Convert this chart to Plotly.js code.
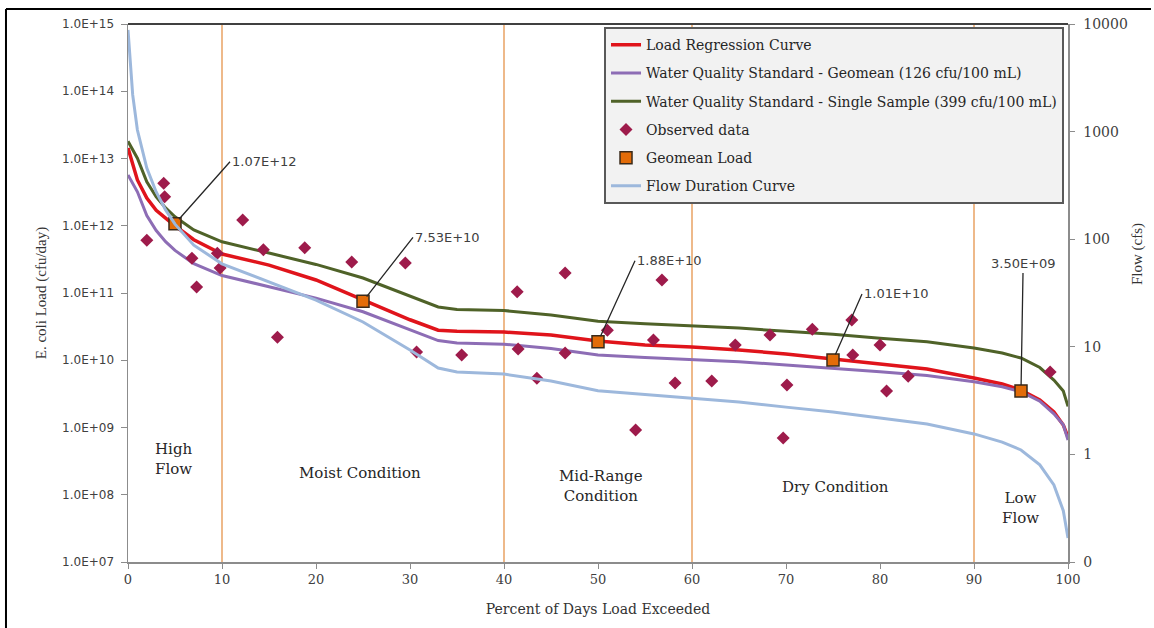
<!DOCTYPE html>
<html>
<head>
<meta charset="utf-8">
<script src="https://cdn.plot.ly/plotly-3.0.1.min.js"></script>
<style>
html,body{margin:0;padding:0;background:#ffffff;}
#chart{width:1154px;height:628px;}
</style>
</head>
<body>
<div id="chart"></div>
<script>
// ---------------- data ----------------
const pct = [0, 0.5, 1, 2, 3, 4, 5, 7, 10, 15, 20, 25, 30, 33, 35, 40, 45, 50, 55, 60, 65, 70, 75, 80, 85, 90, 93, 95, 97, 98.5, 99.5, 100];

const loadRegression = [1.43e13, 7.9e12, 4.8e12, 2.58e12, 1.70e12, 1.30e12, 1.0e12, 6.2e11, 3.8e11, 2.6e11, 1.56e11, 7.9e10, 4.0e10, 2.8e10, 2.7e10, 2.63e10, 2.37e10, 1.93e10, 1.69e10, 1.57e10, 1.42e10, 1.24e10, 1.04e10, 8.8e9, 7.4e9, 5.45e9, 4.44e9, 3.6e9, 2.57e9, 1.7e9, 1.09e9, 7.2e8];

const wqsGeomean = [5.7e12, 4.3e12, 3.2e12, 1.42e12, 8.5e11, 5.8e11, 4.3e11, 2.73e11, 1.82e11, 1.24e11, 8.4e10, 5.26e10, 2.88e10, 1.96e10, 1.8e10, 1.73e10, 1.49e10, 1.2e10, 1.1e10, 1.03e10, 9.5e9, 8.5e9, 7.66e9, 6.73e9, 5.93e9, 4.79e9, 4.03e9, 3.4e9, 2.46e9, 1.6e9, 1.1e9, 6.5e8];

const wqsSingle = [1.8e13, 1.37e13, 1.01e13, 4.5e12, 2.69e12, 1.84e12, 1.36e12, 8.65e11, 5.77e11, 3.93e11, 2.66e11, 1.67e11, 9.1e10, 6.2e10, 5.7e10, 5.48e10, 4.72e10, 3.8e10, 3.49e10, 3.27e10, 3.01e10, 2.69e10, 2.43e10, 2.13e10, 1.88e10, 1.52e10, 1.28e10, 1.08e10, 7.8e9, 5.07e9, 3.49e9, 2.06e9];

const flowCfs = [8800, 2190, 1035, 459, 275, 187, 138, 88, 59, 40, 27.2, 17.0, 9.33, 6.35, 5.83, 5.58, 4.81, 3.9, 3.6, 3.3, 3.07, 2.75, 2.48, 2.18, 1.92, 1.55, 1.30, 1.10, 0.80, 0.52, 0.30, 0.167];

const obsPct = [2.0, 3.8, 3.9, 6.8, 7.3, 9.5, 9.8, 12.2, 14.4, 15.9, 18.8, 23.8, 29.5, 30.7, 35.5, 41.4, 41.5, 43.5, 46.5, 46.5, 51.0, 54.0, 55.9, 56.8, 58.2, 62.1, 64.6, 68.3, 69.7, 70.1, 72.8, 77.0, 77.1, 80.0, 80.7, 83.0, 98.1];
const obsLoad = [6.1e11, 4.3e12, 2.7e12, 3.3e11, 1.23e11, 3.9e11, 2.35e11, 1.22e12, 4.4e11, 2.2e10, 4.7e11, 2.9e11, 2.8e11, 1.33e10, 1.2e10, 1.04e11, 1.47e10, 5.4e9, 1.98e11, 1.28e10, 2.8e10, 9.2e8, 2.0e10, 1.56e11, 4.6e9, 4.9e9, 1.69e10, 2.37e10, 7.0e8, 4.3e9, 2.9e10, 3.98e10, 1.2e10, 1.69e10, 3.5e9, 5.8e9, 6.7e9];

const geoPct = [5, 25, 50, 75, 95];
const geoLoad = [1.07e12, 7.53e10, 1.88e10, 1.01e10, 3.5e9];
const geoLabels = ['1.07E+12', '7.53E+10', '1.88E+10', '1.01E+10', '3.50E+09'];

const zoneBounds = [10, 40, 60, 90];
const zoneNames = ['High<br>Flow', 'Moist Condition', 'Mid-Range<br>Condition', 'Dry Condition', 'Low<br>Flow'];

const xTicks = [0, 10, 20, 30, 40, 50, 60, 70, 80, 90, 100];
const loadTicks = [1e7, 1e8, 1e9, 1e10, 1e11, 1e12, 1e13, 1e14, 1e15];
const loadTickText = ['1.0E+07', '1.0E+08', '1.0E+09', '1.0E+10', '1.0E+11', '1.0E+12', '1.0E+13', '1.0E+14', '1.0E+15'];
const flowTicks = [0.1, 1, 10, 100, 1000, 10000];
const flowTickText = ['0', '1', '10', '100', '1000', '10000'];

// ---------------- styling ----------------
const SERIF = 'DejaVu Serif, serif';
const SANS = 'DejaVu Sans, sans-serif';
const AXIS = '#8C8C8C';
const TXT = '#333333';

const traces = [
  {x: pct, y: loadRegression, name: 'Load Regression Curve', mode: 'lines',
   line: {color: '#E0141B', width: 3.5}, legendgroup: 'a', legendrank: 1},
  {x: pct, y: wqsGeomean, name: 'Water Quality Standard - Geomean (126 cfu/100 mL)', mode: 'lines',
   line: {color: '#8D6DB5', width: 3}, legendgroup: 'b', legendrank: 2},
  {x: pct, y: wqsSingle, name: 'Water Quality Standard - Single Sample (399 cfu/100 mL)', mode: 'lines',
   line: {color: '#4F6228', width: 3}, legendgroup: 'c', legendrank: 3},
  {x: obsPct, y: obsLoad, name: 'Observed data', mode: 'markers',
   marker: {symbol: 'diamond', size: 10, color: '#9E1B4B'}, legendgroup: 'd', legendrank: 4},
  {x: geoPct, y: geoLoad, name: 'Geomean Load', mode: 'markers',
   marker: {symbol: 'square', size: 12, color: '#E36C09', line: {color: '#3A2A1A', width: 1.5}},
   legendgroup: 'e', legendrank: 5},
  {x: pct, y: flowCfs, yaxis: 'y2', name: 'Flow Duration Curve', mode: 'lines',
   line: {color: '#9DB8DC', width: 3}, legendgroup: 'f', legendrank: 6}
];

const shapes = zoneBounds.map(b => ({
  type: 'line', xref: 'x', yref: 'paper', x0: b, x1: b, y0: 0, y1: 1,
  line: {color: '#E9A263', width: 1.5}, layer: 'below'
}));
// plot-area top edge
shapes.push({type: 'line', xref: 'paper', yref: 'paper', x0: 0, x1: 1, y0: 1, y1: 1,
  line: {color: '#404040', width: 2}});
// outer frame (left and top)
shapes.push({type: 'line', xref: 'paper', yref: 'paper', x0: -0.1298, x1: -0.1298, y0: -0.14, y1: 1.0279,
  line: {color: '#000000', width: 2}});
shapes.push({type: 'line', xref: 'paper', yref: 'paper', x0: -0.1298, x1: 1.0883, y0: 1.0279, y1: 1.0279,
  line: {color: '#000000', width: 2}});

// label offsets (pixels) for the geomean callouts
const calloutOffsets = [[55, -62, 'left', 'middle'], [50, -64, 'left', 'middle'], [37, -81, 'left', 'middle'],
                        [29, -66, 'left', 'middle'], [2, -118, 'center', 'bottom']];

const annotations = geoPct.map((p, i) => ({
  x: p, y: Math.log10(geoLoad[i]), xref: 'x', yref: 'y',
  text: geoLabels[i], showarrow: true, arrowhead: 0, arrowwidth: 1.3, arrowcolor: '#262626',
  ax: calloutOffsets[i][0], ay: calloutOffsets[i][1], standoff: 6,
  xanchor: calloutOffsets[i][2], yanchor: calloutOffsets[i][3],
  font: {family: SANS, size: 13, color: '#404040'}
}));

// zone labels (positions in data coordinates: x in %, y as log10 of load)
const zonePos = [[4.8, 8.53], [24.7, 8.32], [50.3, 8.13], [75.3, 8.115], [94.9, 7.80]];
zoneNames.forEach((t, i) => annotations.push({
  x: zonePos[i][0], y: zonePos[i][1], xref: 'x', yref: 'y', text: t, showarrow: false,
  xanchor: 'center', yanchor: 'middle', align: 'center',
  font: {family: SERIF, size: 15, color: '#262626'}
}));

// right axis title
annotations.push({
  x: 1.0745, y: 0.5725, xref: 'paper', yref: 'paper', text: 'Flow (cfs)', showarrow: false,
  textangle: -90, xanchor: 'center', yanchor: 'middle',
  font: {family: 'Liberation Serif, serif', size: 15, color: TXT}
});

const layout = {
  width: 1154, height: 628,
  margin: {l: 128, r: 86, t: 24, b: 66, pad: 0},
  paper_bgcolor: '#ffffff', plot_bgcolor: '#ffffff',
  showlegend: true,
  legend: {
    x: 0.5064, y: 0.994, xanchor: 'left', yanchor: 'top',
    bgcolor: '#F2F2F2', bordercolor: '#595959', borderwidth: 2,
    font: {family: SERIF, size: 14, color: '#262626'},
    tracegroupgap: 7, itemclick: false
  },
  xaxis: {
    range: [0, 100], tickvals: xTicks, showline: true, linecolor: AXIS, linewidth: 1.5,
    ticks: 'outside', ticklen: 5, tickcolor: AXIS, showgrid: false, zeroline: false,
    tickfont: {family: SERIF, size: 13, color: '#404040'},
    title: {text: 'Percent of Days Load Exceeded', font: {family: SERIF, size: 14, color: TXT}, standoff: 18}
  },
  yaxis: {
    type: 'log', range: [7, 15], tickvals: loadTicks, ticktext: loadTickText,
    showline: true, linecolor: AXIS, linewidth: 1.5, ticks: 'outside', ticklen: 6, tickcolor: AXIS,
    showgrid: false, zeroline: false, ticklabelstandoff: 4,
    tickfont: {family: SANS, size: 12, color: '#404040'},
    title: {text: 'E. coli Load (cfu/day)', font: {family: 'Liberation Serif, serif', size: 15, color: TXT}, standoff: 12}
  },
  yaxis2: {
    type: 'log', range: [-1, 4], overlaying: 'y', side: 'right',
    tickvals: flowTicks, ticktext: flowTickText,
    showline: true, linecolor: AXIS, linewidth: 1.5, ticks: 'outside', ticklen: 5, tickcolor: AXIS,
    showgrid: false, zeroline: false, ticklabelstandoff: 6,
    tickfont: {family: SERIF, size: 14, color: '#404040'}
  },
  shapes: shapes,
  annotations: annotations
};

Plotly.newPlot('chart', traces, layout, {displayModeBar: false, staticPlot: true});
</script>
</body>
</html>
